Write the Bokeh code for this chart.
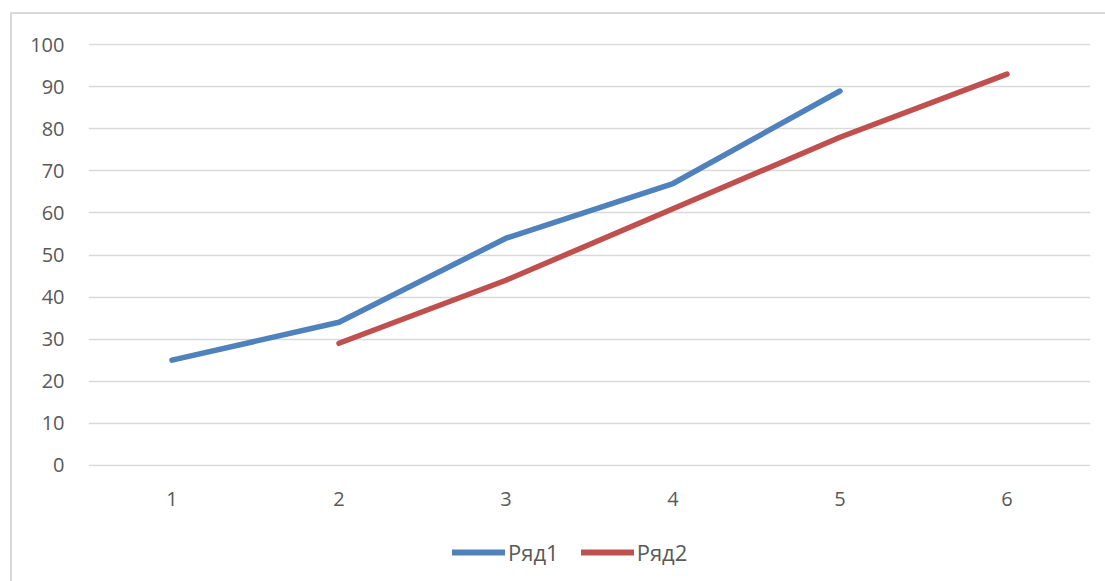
import numpy as np
from bokeh.plotting import figure
from bokeh.layouts import column
from bokeh.models import Range1d, FixedTicker, Legend, LegendItem
from bokeh.embed import file_html
from bokeh.resources import INLINE

categories = [1, 2, 3, 4, 5, 6]
series1 = [25, 34, 54, 67, 89, None]
series2 = [None, 29, 44, 61, 78, 93]
y_ticks = [0, 10, 20, 30, 40, 50, 60, 70, 80, 90, 100]
series_names = ["Ряд1", "Ряд2"]
colors = ["#4f81bd", "#c0504d"]

FONT = "Open Sans"
TXT = "#595959"
GRID = "#d9d9d9"

# main chart: content from y=14 to y=530
p = figure(width=1093, height=516, output_backend="svg", toolbar_location=None,
           x_range=Range1d(0.5, 6.5), y_range=Range1d(-0.3, 100.3),
           min_border_left=76, min_border_right=15, min_border_top=29, min_border_bottom=64)
p.outline_line_color = None
p.background_fill_color = "white"
p.border_fill_color = "white"

p.xgrid.grid_line_color = None
p.ygrid.grid_line_color = GRID
p.ygrid.grid_line_width = 1.5
p.yaxis.ticker = FixedTicker(ticks=y_ticks)
p.xaxis.ticker = FixedTicker(ticks=categories)

for ax in (p.xaxis[0], p.yaxis[0]):
    ax.axis_line_color = None
    ax.major_tick_line_color = None
    ax.minor_tick_line_color = None
    ax.major_tick_in = 0
    ax.major_tick_out = 0
    ax.major_label_text_font = FONT
    ax.major_label_text_font_size = "20px"
    ax.major_label_text_color = TXT
p.yaxis.major_label_standoff = 24
p.xaxis.major_label_standoff = 25

x = np.array(categories, dtype=float)
for vals, col in zip([series1, series2], colors):
    s = np.array([np.nan if v is None else v for v in vals], dtype=float)
    m = ~np.isnan(s)
    p.line(x[m], s[m], line_color=col, line_width=5.5, line_cap="round", line_join="round")

# legend strip below (its frame is aligned with the main frame by the column layout)
p2 = figure(width=1093, height=51, output_backend="svg", toolbar_location=None,
            x_range=Range1d(0, 1), y_range=Range1d(0, 1),
            min_border_left=76, min_border_right=15, min_border_top=0, min_border_bottom=0)
p2.axis.visible = False
p2.grid.visible = False
p2.outline_line_color = None
p2.background_fill_color = "white"
p2.border_fill_color = "white"
items = []
for name, col in zip(series_names, colors):
    r = p2.line([-10, -9], [-10, -9], line_color=col, line_width=6, line_cap="round")
    items.append(LegendItem(label=name, renderers=[r]))
legend = Legend(items=items, orientation="horizontal", location=(364, 14),
                padding=0, margin=0, spacing=22, glyph_width=53, glyph_height=24,
                label_standoff=3, label_text_font=FONT, label_text_font_size="22px",
                label_text_color=TXT, border_line_color=None, background_fill_alpha=0)
p2.add_layout(legend)

layout = column(p, p2, spacing=0)
layout.margin = (12, 0, 0, 10)
layout.styles = {"border-left": "2px solid #d9d9d9", "border-top": "2px solid #d9d9d9"}

open("out.html", "w").write(file_html(layout, INLINE))
